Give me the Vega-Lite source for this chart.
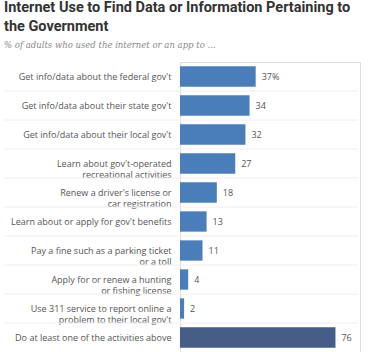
{
  "$schema": "https://vega.github.io/schema/vega-lite/v6.json",
  "autosize": "none",
  "width": 180,
  "height": 290,
  "padding": {"left": 180, "top": 62, "right": 8, "bottom": 0},
  "background": "white",
  "title": {
    "text": ["Internet Use to Find Data or Information Pertaining to", "the Government"],
    "subtitle": "% of adults who used the internet or an app to ...",
    "anchor": "start",
    "frame": "group",
    "dx": -176,
    "offset": 12,
    "font": "Roboto",
    "fontSize": 14.5,
    "fontWeight": "bold",
    "color": "#333333",
    "lineHeight": 19,
    "subtitleFont": "DejaVu Serif",
    "subtitleFontStyle": "italic",
    "subtitleFontSize": 8.5,
    "subtitleColor": "#888888",
    "subtitlePadding": 6
  },
  "data": {
    "values": [
      {"label": "Get info/data about the federal gov't", "value": 37, "text": "37%", "total": "no"},
      {"label": "Get info/data about their state gov't", "value": 34, "text": "34", "total": "no"},
      {"label": "Get info/data about their local gov't", "value": 32, "text": "32", "total": "no"},
      {"label": "Learn about gov't-operated|recreational activities", "value": 27, "text": "27", "total": "no"},
      {"label": "Renew a driver's license or|car registration", "value": 18, "text": "18", "total": "no"},
      {"label": "Learn about or apply for gov't benefits", "value": 13, "text": "13", "total": "no"},
      {"label": "Pay a fine such as a parking ticket|or a toll", "value": 11, "text": "11", "total": "no"},
      {"label": "Apply for or renew a hunting|or fishing license", "value": 4, "text": "4", "total": "no"},
      {"label": "Use 311 service to report online a|problem to their local gov't", "value": 2, "text": "2", "total": "no"},
      {"label": "Do at least one of the activities above", "value": 76, "text": "76", "total": "yes"}
    ]
  },
  "encoding": {
    "y": {
      "field": "label",
      "type": "nominal",
      "sort": null,
      "scale": {"paddingInner": 0.3, "paddingOuter": 0.15},
      "axis": {
        "title": null,
        "domain": false,
        "ticks": false,
        "labelPadding": 9,
        "labelExpr": "split(datum.label, '|')",
        "labelFont": "Open Sans",
        "labelFontSize": 9,
        "labelColor": "#555555",
        "labelLineHeight": 11.5,
        "labelLimit": 200
      }
    }
  },
  "layer": [
    {
      "mark": {"type": "rule", "color": "#eeeeee", "strokeWidth": 1, "clip": false, "yOffset": -14.5},
      "encoding": {
        "x": {"datum": -86, "type": "quantitative", "scale": {"domain": [0, 88], "nice": false}, "axis": null},
        "x2": {"datum": 87},
        "opacity": {"condition": {"test": "datum.value == 37", "value": 0}, "value": 1}
      }
    },
    {
      "mark": {"type": "bar"},
      "encoding": {
        "x": {
          "field": "value",
          "type": "quantitative",
          "scale": {"domain": [0, 88], "nice": false},
          "axis": null
        },
        "color": {
          "field": "total",
          "type": "nominal",
          "scale": {"domain": ["no", "yes"], "range": ["#4a7ebb", "#455d87"]},
          "legend": null
        }
      }
    },
    {
      "mark": {"type": "text", "align": "left", "dx": 6, "font": "Open Sans", "fontSize": 9, "color": "#555555"},
      "encoding": {
        "x": {"field": "value", "type": "quantitative"},
        "text": {"field": "text"}
      }
    }
  ]
}
